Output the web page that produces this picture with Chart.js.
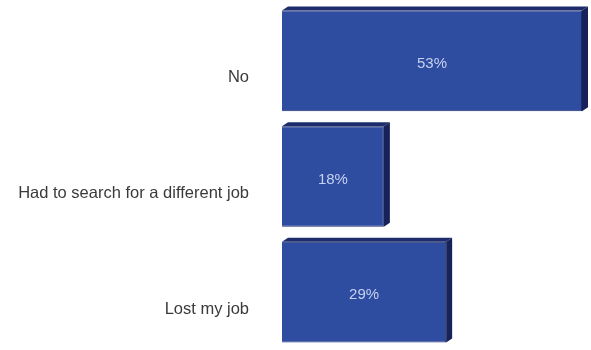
<!DOCTYPE html>
<html>
<head>
<meta charset="utf-8">
<script src="https://cdn.jsdelivr.net/npm/chart.js@4"></script>
<style>
  html, body { margin: 0; padding: 0; background: #ffffff; }
  #wrap { width: 591px; height: 350px; }
</style>
</head>
<body>
<div id="wrap"><canvas id="myChart"></canvas></div>
<script>
let categories = ['No', 'Had to search for a different job', 'Lost my job'];
let values = [53, 18, 29];
let valueLabels = ['53%', '18%', '29%'];

let ctx = document.getElementById('myChart');

// fake 3d: top and side faces drawn after the bars
const bar3d = {
  id: 'bar3d',
  afterDatasetsDraw(chart) {
    const c = chart.ctx;
    const dx = 6, dy = 4;
    chart.getDatasetMeta(0).data.forEach((bar, i) => {
      const p = bar.getProps(['x', 'y', 'base', 'height'], true);
      const top = p.y - p.height / 2;
      const bottom = p.y + p.height / 2;
      c.save();
      // top face
      c.fillStyle = '#1d2c6c';
      c.beginPath();
      c.moveTo(p.base, top);
      c.lineTo(p.base + dx, top - dy);
      c.lineTo(p.x + dx, top - dy);
      c.lineTo(p.x, top);
      c.closePath();
      c.fill();
      // side face
      c.fillStyle = '#18225a';
      c.beginPath();
      c.moveTo(p.x, top);
      c.lineTo(p.x + dx, top - dy);
      c.lineTo(p.x + dx, bottom - dy);
      c.lineTo(p.x, bottom);
      c.closePath();
      c.fill();
      // value label
      c.fillStyle = '#c6d1f0';
      c.font = '15px "Liberation Sans", Arial, sans-serif';
      c.textAlign = 'center';
      c.textBaseline = 'middle';
      c.fillText(valueLabels[i], (p.base + p.x) / 2, p.y + 3);
      c.restore();
    });
  }
};

let chart_temp = {
  type: 'bar',
  data: {
    labels: categories,
    datasets: [{
      data: values,
      backgroundColor: '#2e4da1',
      borderColor: '#1d2c6c',
      borderWidth: 1,
      barPercentage: 0.87,
      categoryPercentage: 1
    }]
  },
  options: {
    indexAxis: 'y',
    responsive: true,
    maintainAspectRatio: false,
    animation: false,
    layout: { padding: { top: 3, right: 9, bottom: -1, left: 0 } },
    plugins: {
      legend: { display: false },
      tooltip: { enabled: false }
    },
    scales: {
      x: {
        display: false,
        min: 0,
        max: 53
      },
      y: {
        grid: { display: false, drawTicks: false },
        border: { display: false },
        afterFit: (axis) => {
          axis.width = 282;
          axis.paddingTop = 0;
          axis.paddingBottom = 0;
        },
        ticks: {
          padding: 33,
          labelOffset: 17,
          color: '#3a3a3a',
          font: { family: '"Liberation Sans", Arial, sans-serif', size: 16.5 }
        }
      }
    }
  },
  plugins: [bar3d]
};

const myChart = new Chart(ctx, chart_temp);
</script>
</body>
</html>
